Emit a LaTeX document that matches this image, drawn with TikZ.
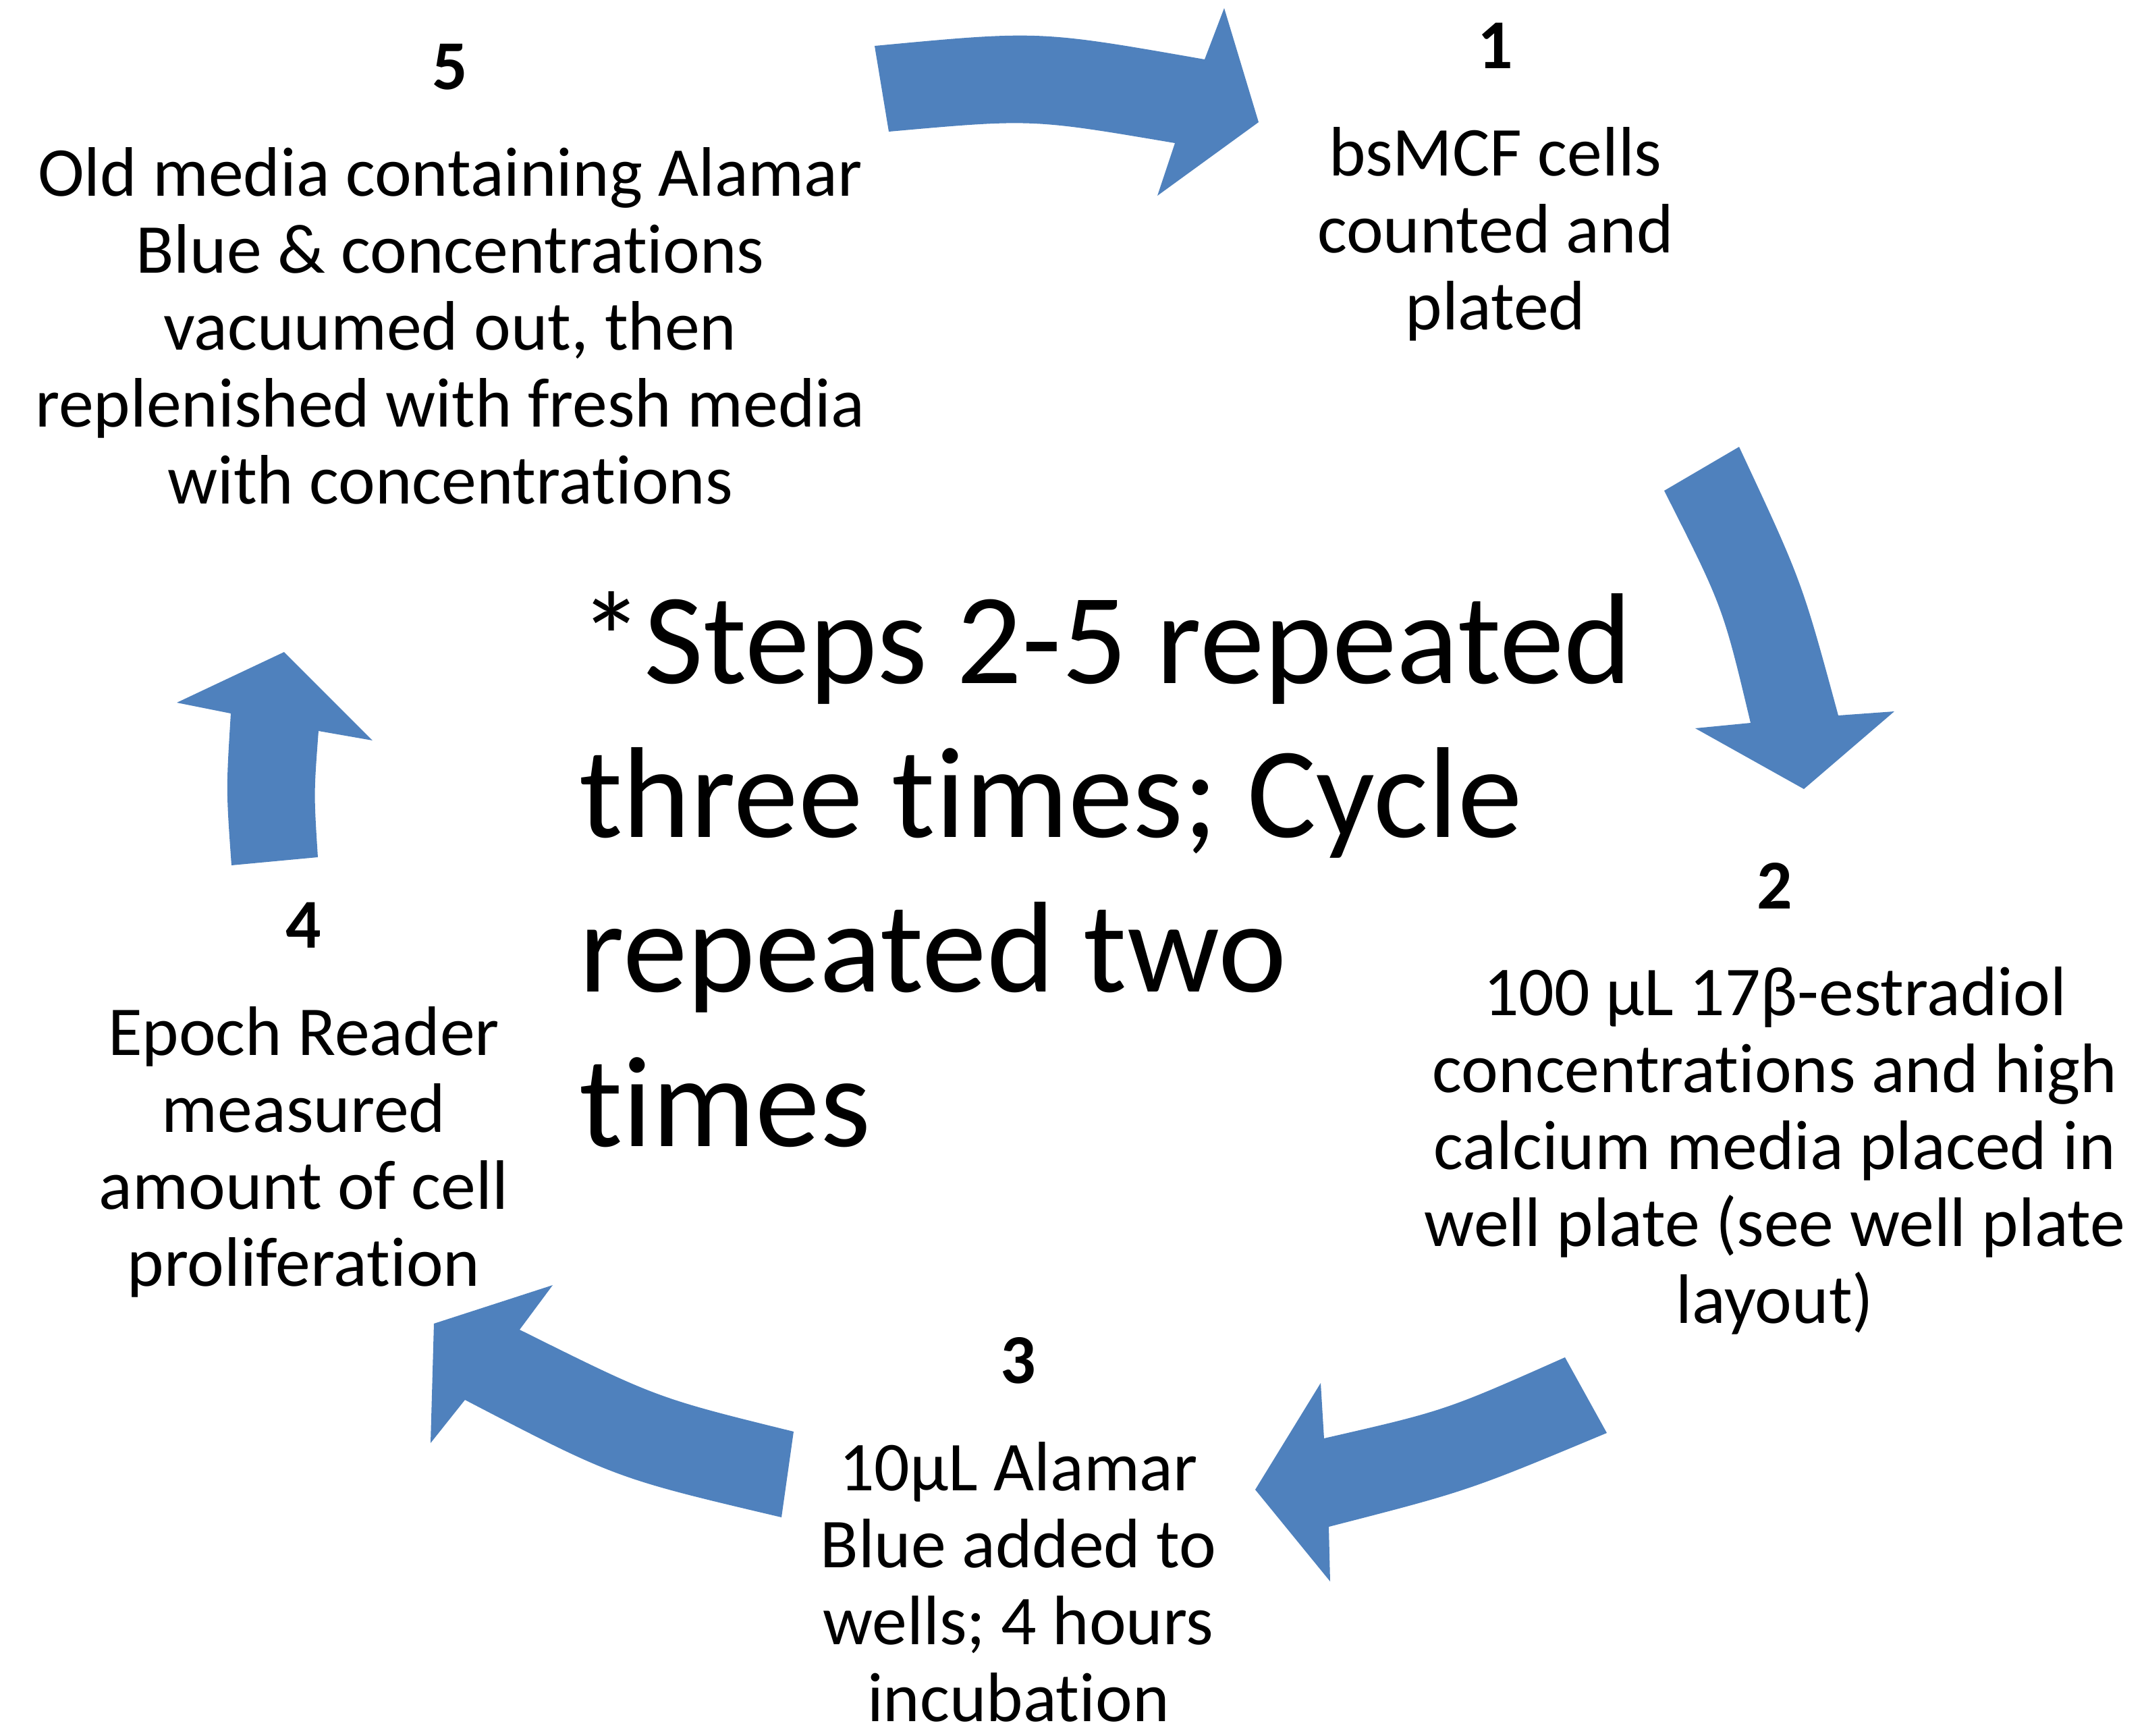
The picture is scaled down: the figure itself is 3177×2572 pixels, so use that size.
\documentclass[tikz,border=0pt]{standalone}
\usepackage{fontspec}
\setmainfont{Carlito}[Ligatures=NoCommon]
\usepackage{xcolor}
\usetikzlibrary{positioning,calc}
\definecolor{arrowblue}{HTML}{4F81BD}
\newcommand{\stepfont}{\fontsize{29.5}{32.4}\selectfont}
\newcommand{\notefont}{\fontsize{54.5}{65}\selectfont}

\begin{document}
\begin{tikzpicture}[x=0.01cm, y=-0.01cm, every node/.style={font=\stepfont, align=center, inner sep=0pt}, cyclearrow/.style={fill=arrowblue, draw=none}]
				\useasboundingbox (0,0) rectangle (3177,2572);
				
				\node[anchor=base] (n1) at (2216,488) {\textbf{1}\\[12.6pt] bsMCF cells\\ counted and\\ plated};
				\node[anchor=base] (n2) at (2630,1960) {\textbf{2}\\[12.6pt] 100 µL 17β-estradiol\\ concentrations and high\\ calcium media placed in\\ well plate (see well plate\\ layout)};
				\node[anchor=base] (n3) at (1509,2550) {\textbf{3}\\[12.6pt] 10µL Alamar\\ Blue added to\\ wells; 4 hours\\ incubation};
				\node[anchor=base] (n4) at (450,1905) {\textbf{4}\\[12.6pt] Epoch Reader\\ measured\\ amount of cell\\ proliferation};
				\node[anchor=base] (n5) at (667,746) {\textbf{5}\\[12.6pt] Old media containing Alamar\\ Blue \& concentrations\\ vacuumed out, then\\ replenished with fresh media\\ with concentrations};
				
				\node[anchor=base west, align=left, font=\notefont] (note) at (858,1698) {*Steps 2-5 repeated\\ three times; Cycle\\ repeated two\\ times};
				
				\fill[cyclearrow] (1296,68) .. controls (1540,45) .. (1785,88) -- (1814,12) -- (1865,181) -- (1715,290) -- (1741,212) .. controls (1529,176) .. (1317,195) -- cycle;
				\fill[cyclearrow] (2577,662) .. controls (2670,861) .. (2724,1060) -- (2807,1054) -- (2673,1169) -- (2512,1079) -- (2594,1071) .. controls (2553,899) .. (2466,727) -- cycle;
				\fill[cyclearrow] (2381,2123) .. controls (2175,2209) .. (1969,2262) -- (1971,2343) -- (1860,2207) -- (1957,2049) -- (1962,2131) .. controls (2141,2090) .. (2319,2011) -- cycle;
				\fill[cyclearrow] (1176,2121) .. controls (973,2071) .. (770,1970) -- (819,1904) -- (643,1961) -- (638,2138) -- (689,2074) .. controls (912,2190) .. (1158,2248) -- cycle;
				\fill[cyclearrow] (471,1270) .. controls (465,1176) .. (472,1083) -- (552,1097) -- (421,966) -- (262,1041) -- (342,1057) .. controls (335,1170) .. (343,1282) -- cycle;
			\end{tikzpicture}
\end{document}
